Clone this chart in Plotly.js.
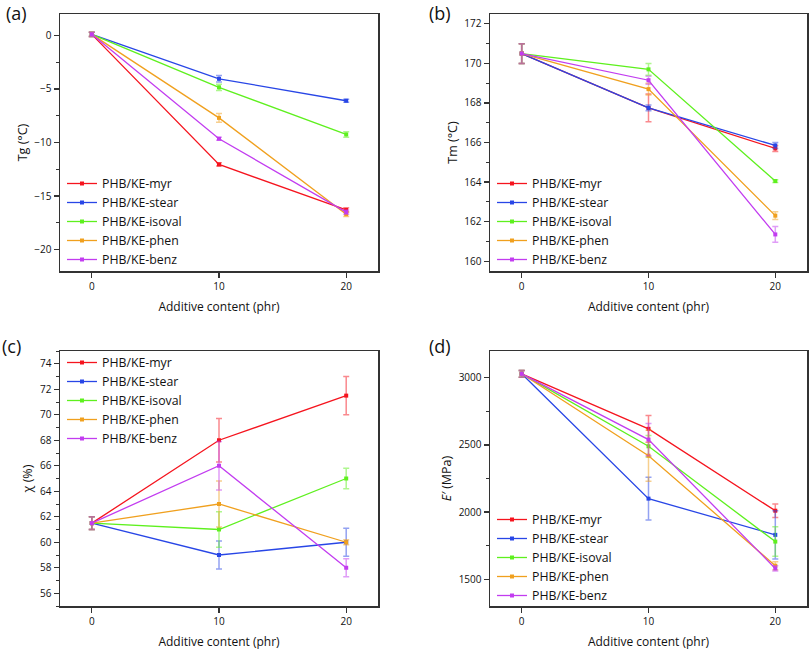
<!DOCTYPE html>
<html>
<head>
<meta charset="utf-8">
<script src="https://cdn.plot.ly/plotly-3.0.1.min.js"></script>
<style>html,body{margin:0;padding:0;background:#fff;}#chart{width:810px;height:650px;}</style>
</head>
<body>
<div id="chart"></div>
<script>
const xContent = [0, 10, 20];
const seriesNames = ["PHB/KE-myr", "PHB/KE-stear", "PHB/KE-isoval", "PHB/KE-phen", "PHB/KE-benz"];
const seriesColors = ["#f5141e", "#2846e6", "#5ef01e", "#f0a01e", "#c23cf0"];
const errColors = ["rgba(245,20,30,0.5)", "rgba(40,70,230,0.5)", "rgba(94,240,30,0.5)", "rgba(240,160,30,0.5)", "rgba(194,60,240,0.5)"];

// (a) Tg (°C)
const tgMyr = [0.1, -12.05, -16.3];
const tgStear = [0.1, -4.05, -6.1];
const tgIsoval = [0.1, -4.85, -9.25];
const tgPhen = [0.1, -7.7, -16.7];
const tgBenz = [0.1, -9.65, -16.5];
const tgMyrErr = [0.2, 0.15, 0.2];
const tgStearErr = [0.2, 0.3, 0.15];
const tgIsovalErr = [0.2, 0.3, 0.25];
const tgPhenErr = [0.2, 0.4, 0.2];
const tgBenzErr = [0.2, 0.15, 0.2];

// (b) Tm (°C)
const tmMyr = [170.5, 167.75, 165.7];
const tmStear = [170.5, 167.75, 165.85];
const tmIsoval = [170.5, 169.7, 164.05];
const tmPhen = [170.5, 168.7, 162.3];
const tmBenz = [170.5, 169.15, 161.35];
const tmMyrErr = [0.5, 0.7, 0.15];
const tmStearErr = [0.5, 0.15, 0.15];
const tmIsovalErr = [0.5, 0.3, 0.07];
const tmPhenErr = [0.5, 0.3, 0.2];
const tmBenzErr = [0.5, 0.2, 0.4];

// (c) crystallinity χ (%)
const chiMyr = [61.5, 68, 71.5];
const chiStear = [61.5, 59, 60];
const chiIsoval = [61.5, 61, 65];
const chiPhen = [61.5, 63, 60];
const chiBenz = [61.5, 66, 58];
const chiMyrErr = [0.5, 1.7, 1.5];
const chiStearErr = [0.5, 1.1, 1.1];
const chiIsovalErr = [0.5, 1.4, 0.8];
const chiPhenErr = [0.5, 1.8, 0.2];
const chiBenzErr = [0.5, 1.9, 0.7];

// (d) E' (MPa)
const eMyr = [3030, 2620, 2010];
const eStear = [3030, 2100, 1830];
const eIsoval = [3030, 2490, 1780];
const ePhen = [3030, 2420, 1600];
const eBenz = [3030, 2540, 1580];
const eMyrErr = [25, 100, 50];
const eStearErr = [25, 160, 180];
const eIsovalErr = [25, 80, 110];
const ePhenErr = [25, 190, 30];
const eBenzErr = [25, 120, 20];

const panels = [
  {xa: "x", ya: "y", legend: "legend", ys: [tgMyr, tgStear, tgIsoval, tgPhen, tgBenz], es: [tgMyrErr, tgStearErr, tgIsovalErr, tgPhenErr, tgBenzErr]},
  {xa: "x2", ya: "y2", legend: "legend2", ys: [tmMyr, tmStear, tmIsoval, tmPhen, tmBenz], es: [tmMyrErr, tmStearErr, tmIsovalErr, tmPhenErr, tmBenzErr]},
  {xa: "x3", ya: "y3", legend: "legend3", ys: [chiMyr, chiStear, chiIsoval, chiPhen, chiBenz], es: [chiMyrErr, chiStearErr, chiIsovalErr, chiPhenErr, chiBenzErr]},
  {xa: "x4", ya: "y4", legend: "legend4", ys: [eMyr, eStear, eIsoval, ePhen, eBenz], es: [eMyrErr, eStearErr, eIsovalErr, ePhenErr, eBenzErr]}
];

const traces = [];
panels.forEach(p => {
  p.ys.forEach((yv, i) => {
    traces.push({
      type: "scatter", mode: "lines+markers",
      x: xContent, y: yv, name: seriesNames[i],
      xaxis: p.xa, yaxis: p.ya, legend: p.legend,
      line: {color: seriesColors[i], width: 1.3},
      marker: {symbol: "square", size: 4, color: seriesColors[i]},
      error_y: {type: "data", array: p.es[i], visible: true, color: errColors[i], thickness: 1.5, width: 3},
      cliponaxis: false
    });
  });
});

const fontFam = "Open Sans, sans-serif";
function xAxis(domain, anchor) {
  return {
    domain: domain, anchor: anchor, range: [-2.5, 22.5],
    tickvals: xContent, ticktext: ["0", "10", "20"],
    ticks: "outside", ticklen: 5, tickwidth: 1.2, tickcolor: "#333",
    showline: true, mirror: true, linecolor: "#333", linewidth: 1.5,
    showgrid: false, zeroline: false,
    tickfont: {family: fontFam, size: 10, color: "#111"},
    title: {text: "Additive content (phr)", font: {family: fontFam, size: 12, color: "#111"}, standoff: 11}
  };
}
function yAxis(domain, anchor, range, dtick, title) {
  return {
    domain: domain, anchor: anchor, range: range, dtick: dtick,
    ticks: "outside", ticklen: 5, tickwidth: 1.2, tickcolor: "#333",
    minor: {dtick: dtick / 2, ticks: "outside", ticklen: 3, tickwidth: 1, tickcolor: "#333", showgrid: false},
    showline: true, mirror: true, linecolor: "#333", linewidth: 1.5,
    showgrid: false, zeroline: false,
    tickfont: {family: fontFam, size: 10, color: "#111"},
    title: {text: title, font: {family: fontFam, size: 12.5, color: "#111"}, standoff: 4}
  };
}

const xdL = [60 / 810, 378 / 810], xdR = [490 / 810, 807 / 810];
const ydT = [1 - 271 / 650, 1 - 14 / 650], ydB = [1 - 606 / 650, 1 - 351 / 650];

function leg(x, y) {
  return {x: x, y: y, xanchor: "left", yanchor: "top", bgcolor: "rgba(0,0,0,0)", borderwidth: 0,
    font: {family: fontFam, size: 12.3, color: "#111"}, tracegroupgap: 0, itemwidth: 30};
}

const layout = {
  width: 810, height: 650,
  margin: {l: 0, r: 0, t: 0, b: 0},
  paper_bgcolor: "#fff", plot_bgcolor: "#fff",
  showlegend: true,
  font: {family: fontFam, color: "#111"},
  xaxis: xAxis(xdL, "y"),
  yaxis: yAxis(ydT, "x", [-22, 2], 5, "Tg (°C)"),
  xaxis2: xAxis(xdR, "y2"),
  yaxis2: yAxis(ydT, "x2", [159.5, 172.5], 2, "Tm (°C)"),
  xaxis3: xAxis(xdL, "y3"),
  yaxis3: yAxis(ydB, "x3", [55, 75], 2, "χ (%)"),
  xaxis4: xAxis(xdR, "y4"),
  yaxis4: yAxis(ydB, "x4", [1300, 3200], 500, "<i>E′</i> (MPa)"),
  legend: leg(62 / 810, 1 - 169 / 650),
  legend2: leg(492 / 810, 1 - 169 / 650),
  legend3: leg(62 / 810, 1 - 348 / 650),
  legend4: leg(492 / 810, 1 - 505 / 650),
  annotations: [
    {text: "(a)", x: 4 / 810, y: 1 - 13 / 650, xref: "paper", yref: "paper", xanchor: "left", yanchor: "middle", showarrow: false, font: {family: fontFam, size: 18, color: "#111"}},
    {text: "(b)", x: 427 / 810, y: 1 - 13 / 650, xref: "paper", yref: "paper", xanchor: "left", yanchor: "middle", showarrow: false, font: {family: fontFam, size: 18, color: "#111"}},
    {text: "(c)", x: 0 / 810, y: 1 - 346 / 650, xref: "paper", yref: "paper", xanchor: "left", yanchor: "middle", showarrow: false, font: {family: fontFam, size: 18, color: "#111"}},
    {text: "(d)", x: 427 / 810, y: 1 - 346 / 650, xref: "paper", yref: "paper", xanchor: "left", yanchor: "middle", showarrow: false, font: {family: fontFam, size: 18, color: "#111"}}
  ]
};

Plotly.newPlot("chart", traces, layout, {displayModeBar: false, staticPlot: true});
</script>
</body>
</html>
